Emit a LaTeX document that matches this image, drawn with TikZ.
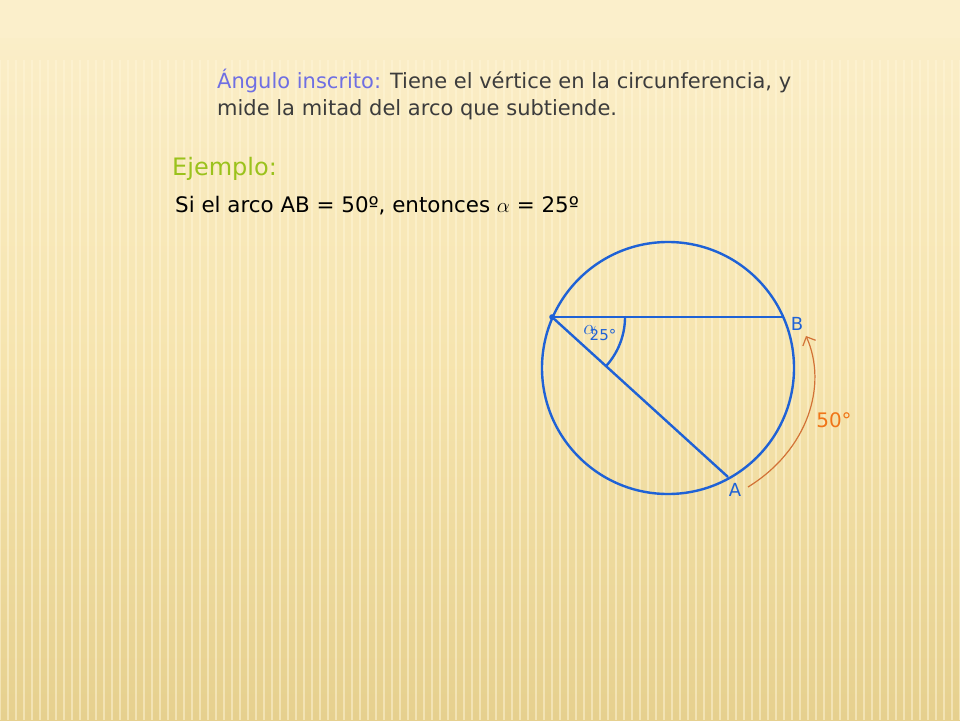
\documentclass[tikz,border=0pt]{standalone}
\usepackage{fontspec}
\setmainfont{DejaVu Sans}
\usetikzlibrary{arrows.meta,calc}
\definecolor{bgtop}{HTML}{FBEFCB}
\definecolor{bgmid}{HTML}{F6E4AE}
\definecolor{bgbot}{HTML}{E6D08E}
\definecolor{stripe}{HTML}{FFF6D8}
\definecolor{geoblue}{HTML}{1F62D6}
\definecolor{titleblue}{HTML}{6F6FE3}
\definecolor{txtgray}{HTML}{3C3C3C}
\definecolor{exgreen}{HTML}{9BC21C}
\definecolor{arcorange}{HTML}{D27236}
\definecolor{lblorange}{HTML}{F07518}
\begin{document}
\begin{tikzpicture}[x=1pt,y=-1pt,
  geo/.style={draw=geoblue,line width=2.4pt},
  lbl/.style={text=geoblue,font=\fontsize{18}{18}\selectfont,inner sep=0pt},
  txt/.style={anchor=base west,inner sep=0pt,font=\fontsize{21}{25}\selectfont}]
\useasboundingbox (0,0) rectangle (960,720);
% background
\shade[top color=bgtop,bottom color=bgbot,middle color=bgmid] (0,0) rectangle (960,720);
\fill[bgtop] (0,0) rectangle (960,38);
\foreach \i in {0,...,120}{
  \draw[stripe,opacity=0.5,line width=2.5pt] (\i*8,60) -- (\i*8,720);
}
% texts
\node[txt] (t1) at (217,88) {\textcolor{titleblue}{Ángulo inscrito:} \textcolor{txtgray}{Tiene el vértice en la circunferencia, y}};
\node[txt,text=txtgray] (t2) at (217,115) {mide la mitad del arco que subtiende.};
\node[txt,text=exgreen,font=\fontsize{24}{28}\selectfont] (ej) at (172,175) {Ejemplo:};
\node[txt,text=black,font=\fontsize{21.4}{25}\selectfont] (si) at (175,212) {Si el arco AB = 50º, entonces $\alpha$ = 25º};
% geometry
\coordinate (O) at (668,368);
\coordinate (V) at (552,317);
\coordinate (B) at (783,317);
\coordinate (A) at (728,477);
\draw[geo] (O) circle[radius=126];
\draw[geo] (V) -- (B);
\draw[geo] (V) -- (A);
\fill[geoblue] (V) circle[radius=2.8];
\draw[geo] ($(V)+(73,0)$) arc[start angle=0,end angle=42.3,radius=73];
\node[lbl] (Bl) at (797,324) {B};
\node[lbl] (Al) at (735,490) {A};
\node[text=geoblue,inner sep=0pt,font=\fontsize{20}{20}\selectfont] (al) at (590,330) {$\alpha$};
\node[text=geoblue,inner sep=0pt,font=\fontsize{15}{15}\selectfont] (d25) at (603,335) {25°};
% orange arc
\coordinate (s) at (748,487);
\coordinate (e) at (806,336);
\draw[arcorange,line width=1.2pt,-{Straight Barb[length=7pt,width=14pt]}] (s) .. controls (808,450) and (828,385) .. (e);
\node[text=lblorange,inner sep=0pt,font=\fontsize{20}{20}\selectfont] (l50) at (834,420) {50°};
\end{tikzpicture}
\end{document}
